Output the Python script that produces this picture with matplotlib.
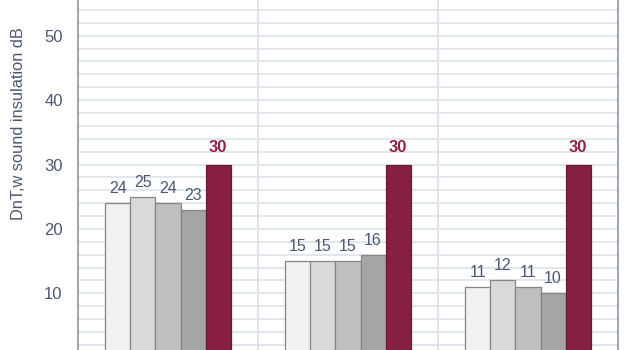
import numpy as np
import matplotlib
matplotlib.use("Agg")
import matplotlib.pyplot as plt
from matplotlib.ticker import MultipleLocator

plt.rcParams["font.family"] = ["Liberation Sans", "DejaVu Sans"]

# values per group, five series each
groups = ["A", "B", "C"]
series_1 = [24, 15, 11]
series_2 = [25, 15, 12]
series_3 = [24, 15, 11]
series_4 = [23, 16, 10]
series_5 = [30, 30, 30]
all_series = [series_1, series_2, series_3, series_4, series_5]
colors = ["#f1f1f1", "#d9d9d9", "#bfbfbf", "#a5a5a5", "#861f41"]

TEXT = "#4a5872"
fig = plt.figure(figsize=(6.3, 3.5), dpi=100)
ax = fig.add_axes([78 / 630, 0, 540 / 630, 1])

x = np.arange(len(groups))
w = 0.139
for i, (vals, c) in enumerate(zip(all_series, colors)):
    pos = x + (i - 2) * w
    last = i == 4
    bars = ax.bar(pos, vals, width=w, color=c,
                  edgecolor="#6a1a33" if last else "#858585", linewidth=0.9,
                  zorder=3)
    for b, v in zip(bars, vals):
        ax.annotate(str(v), (b.get_x() + b.get_width() / 2, v),
                    xytext=(0, 7 if last else 5), textcoords="offset points",
                    ha="center", va="bottom",
                    fontsize=12 if last else 11.5,
                    color="#8c2046" if last else TEXT,
                    fontweight="bold" if last else "normal")

ax.set_xlim(-0.5, 2.5)
ax.set_ylim(1.2, 55.54)
ax.yaxis.set_major_locator(MultipleLocator(10))
ax.yaxis.set_minor_locator(MultipleLocator(2))
ax.grid(which="both", axis="y", color="#dde1ea", linewidth=1.2, zorder=0)
for xv in [0.5, 1.5]:
    ax.axvline(xv, color="#d8dce6", linewidth=1.2, zorder=0)
ax.set_xticks([])
ax.tick_params(axis="y", which="both", length=0, labelsize=12,
               labelcolor=TEXT, pad=11)
for s in ["top", "bottom"]:
    ax.spines[s].set_visible(False)
for s in ["left", "right"]:
    ax.spines[s].set_color("#8a93a8")
    ax.spines[s].set_linewidth(1.2)
ax.set_ylabel("DnT,w sound insulation dB", fontsize=11.8, color=TEXT)
ax.yaxis.set_label_coords(-0.0965, 0.647)

fig.savefig("out.png", dpi=100)
